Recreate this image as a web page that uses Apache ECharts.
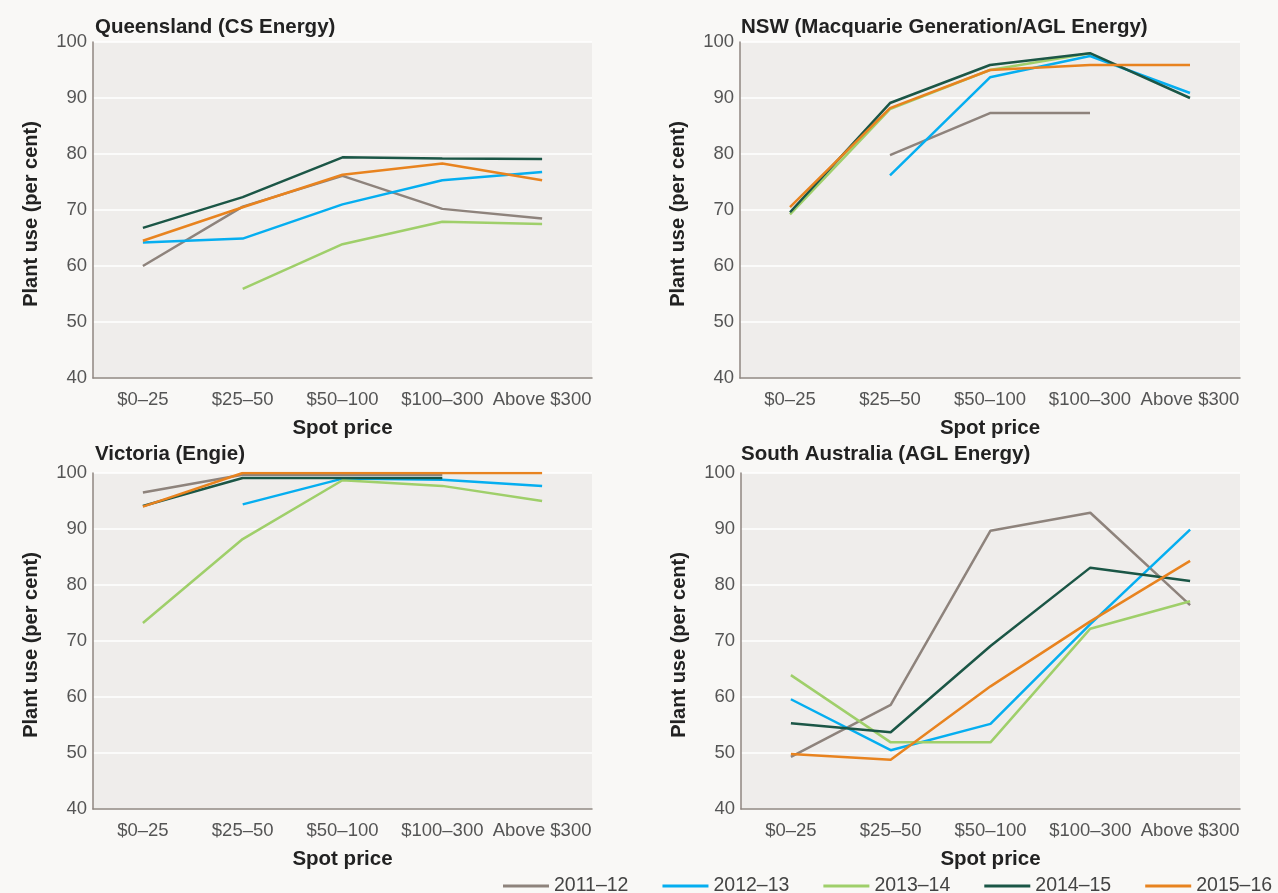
<!DOCTYPE html>
<html>
<head>
<meta charset="utf-8">
<script src="https://cdn.jsdelivr.net/npm/echarts@6/dist/echarts.min.js"></script>
<style>
html,body{margin:0;padding:0;background:#f9f8f6;}
#chart{width:1278px;height:893px;}
</style>
</head>
<body>
<div id="chart"></div>
<script>
var categories = ['$0–25', '$25–50', '$50–100', '$100–300', 'Above $300'];
var years = ['2011–12', '2012–13', '2013–14', '2014–15', '2015–16'];
var panelTitles = ['Queensland (CS Energy)', 'NSW (Macquarie Generation/AGL Energy)', 'Victoria (Engie)', 'South Australia (AGL Energy)'];
var yTicks = [40, 50, 60, 70, 80, 90, 100];

// Queensland
var qld2011 = [60.0, 70.6, 76.1, 70.2, 68.5];
var qld2012 = [64.2, 64.9, 71.0, 75.3, 76.8];
var qld2013 = [null, 55.9, 63.9, 67.9, 67.5];
var qld2014 = [66.8, 72.3, 79.4, 79.2, 79.1];
var qld2015 = [64.5, 70.5, 76.3, 78.3, 75.3];
// NSW
var nsw2011 = [null, 79.8, 87.3, 87.3, null];
var nsw2012 = [null, 76.2, 93.7, 97.5, 90.9];
var nsw2013 = [69.2, 88.0, 95.0, 98.0, null];
var nsw2014 = [69.6, 89.1, 95.9, 98.0, 90.0];
var nsw2015 = [70.5, 88.2, 95.0, 95.9, 95.9];
// Victoria
var vic2011 = [96.5, 99.7, 99.7, 99.7, null];
var vic2012 = [null, 94.4, 99.0, 98.8, 97.7];
var vic2013 = [73.2, 88.2, 98.7, 97.7, 95.0];
var vic2014 = [94.1, 99.1, 99.1, 99.1, null];
var vic2015 = [94.0, 100, 100, 100, 100];
// South Australia
var sa2011 = [49.3, 58.6, 89.7, 92.9, 76.4];
var sa2012 = [59.6, 50.5, 55.2, 73.0, 89.9];
var sa2013 = [63.9, 51.9, 51.9, 72.2, 77.1];
var sa2014 = [55.3, 53.7, 69.1, 83.1, 80.7];
var sa2015 = [49.8, 48.8, 61.9, 73.5, 84.3];

var panelData = [
  [qld2011, qld2012, qld2013, qld2014, qld2015],
  [nsw2011, nsw2012, nsw2013, nsw2014, nsw2015],
  [vic2011, vic2012, vic2013, vic2014, vic2015],
  [sa2011, sa2012, sa2013, sa2014, sa2015]
];

var colors = ['#8e837c', '#05aef0', '#9fcf6a', '#1b5646', '#e8831f'];
var grids = [
  {left: 93, top: 42, width: 499, height: 336},
  {left: 740, top: 42, width: 500, height: 336},
  {left: 93, top: 473, width: 499, height: 336},
  {left: 741, top: 473, width: 499, height: 336}
];
var titlePos = [
  {left: 95, top: 17}, {left: 741, top: 17}, {left: 95, top: 444}, {left: 741, top: 444}
];

var font = 'Liberation Sans, Arial, sans-serif';
var option = {
  backgroundColor: '#f9f8f6',
  animation: false,
  color: colors,
  title: panelTitles.map(function (t, i) {
    return {text: t, left: titlePos[i].left, top: titlePos[i].top, padding: 0,
      textStyle: {fontFamily: font, fontSize: 20.5, fontWeight: 'bold', color: '#222'}};
  }),
  legend: {
    data: years, left: 503, top: 876, itemWidth: 46, itemHeight: 3, itemGap: 34,
    icon: 'rect', padding: 0,
    textStyle: {fontFamily: font, fontSize: 19.5, color: '#444'}
  },
  grid: grids.map(function (g) {
    return {left: g.left, top: g.top, width: g.width, height: g.height, show: true,
      backgroundColor: '#efedeb', borderWidth: 0, containLabel: false};
  }),
  xAxis: grids.map(function (g, i) {
    return {type: 'category', gridIndex: i, data: categories, boundaryGap: true,
      name: 'Spot price', nameLocation: 'middle', nameGap: 40,
      nameTextStyle: {fontFamily: font, fontSize: 20.5, fontWeight: 'bold', color: '#222'},
      axisLine: {lineStyle: {color: '#8f8680', width: 1.5}},
      axisTick: {show: false},
      axisLabel: {fontFamily: font, fontSize: 18.5, color: '#555', margin: 12, interval: 0},
      splitLine: {show: false}};
  }),
  yAxis: grids.map(function (g, i) {
    return {type: 'value', gridIndex: i, min: yTicks[0], max: yTicks[yTicks.length - 1], interval: 10,
      name: 'Plant use (per cent)', nameLocation: 'middle', nameGap: 52,
      nameTextStyle: {fontFamily: font, fontSize: 20, fontWeight: 'bold', color: '#222', padding: [0, 8, 0, 0]},
      axisLine: {show: true, lineStyle: {color: '#8f8680', width: 1.5}},
      axisTick: {show: false},
      axisLabel: {fontFamily: font, fontSize: 18.5, color: '#555', margin: 6},
      splitLine: {show: true, lineStyle: {color: '#ffffff', width: 1.5}}};
  }),
  series: []
};

panelData.forEach(function (panel, p) {
  panel.forEach(function (vals, s) {
    option.series.push({
      type: 'line', name: years[s], xAxisIndex: p, yAxisIndex: p, data: vals,
      symbol: 'none', connectNulls: false,
      lineStyle: {width: 2.5, color: colors[s]}, itemStyle: {color: colors[s]}
    });
  });
});

var chart = echarts.init(document.getElementById('chart'), null, {renderer: 'canvas'});
chart.setOption(option);
</script>
</body>
</html>
